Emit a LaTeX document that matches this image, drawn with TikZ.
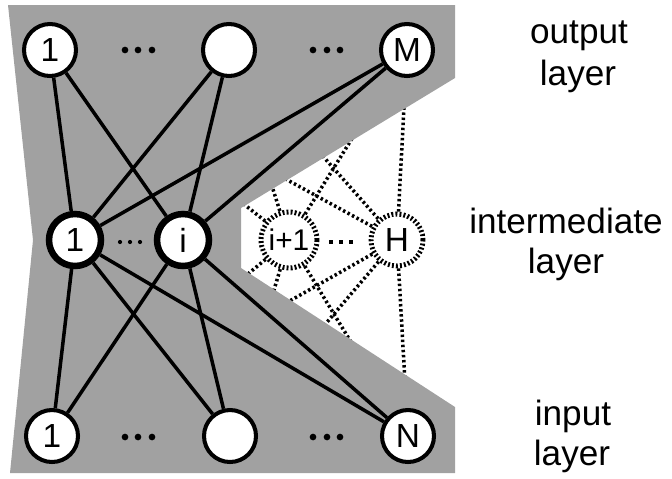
\documentclass[tikz,border=0pt]{standalone}
\usepackage{fontspec}
\setmainfont{Liberation Sans}
\usetikzlibrary{backgrounds}
\definecolor{netgray}{gray}{0.63}
\tikzset{
  neuron/.style={circle, draw, fill=white, line width=2.3pt, minimum size=1.04cm,
    inner sep=0pt, font=\fontsize{19}{22}\selectfont},
  hidden/.style={neuron, line width=3.7pt},
  pruned/.style={neuron, line width=2.8pt, dash pattern=on 1.1pt off 1.2pt},
  link/.style={line width=2pt},
  prunedlink/.style={line width=2pt, dash pattern=on 1.4pt off 1.5pt},
  layername/.style={font=\fontsize{20}{23}\selectfont, anchor=base, inner sep=0pt},
}
\begin{document}
\begin{tikzpicture}[x=0.02cm, y=-0.02cm]
\useasboundingbox (0,0) rectangle (672,478);
% nodes
\node[neuron] (o1) at (50,50) {1};
\node[neuron] (o2) at (229,50) {};
\node[neuron] (oM) at (407,50) {M};
\node[hidden] (h1) at (75,240) {1};
\node[hidden] (hi) at (183,240) {i};
\node[pruned, minimum size=1.12cm, font=\fontsize{17}{20}\selectfont] (hi1) at (289,240) {i+1};
\node[pruned] (hH) at (397,240) {H};
\node[neuron] (in1) at (52,436) {1};
\node[neuron] (in2) at (230,436) {};
\node[neuron] (inN) at (408,436) {N};
% dots between units
\foreach \x in {125,138,152,313,327,340} {
  \fill (\x,50) circle (1.9pt);
  \fill (\x,437) circle (1.9pt);
}
\foreach \x in {120,130,140} \fill (\x,242) circle (1.2pt);
\foreach \x in {331,341,351} \draw[line width=1.8pt] (\x-2,242) -- (\x+2,242);
% layer names
\node[layername] (outname) at (579,43) {output};
\node[layername] (outlayer) at (578,85) {layer};
\node[layername] (midname) at (566,233) {intermediate};
\node[layername] (midlayer) at (566,273) {layer};
\node[layername] (inname) at (573,425) {input};
\node[layername] (inlayer) at (572,465) {layer};
% links
\begin{pgfonlayer}{background}
\foreach \a in {hi1,hH}
  \foreach \b in {o1,o2,oM,in1,in2,inN}
    \draw[prunedlink] (\a) -- (\b);
\fill[netgray] (8,5) -- (455,5) -- (455,78) -- (241,208) -- (241,268) -- (455,407)
  -- (455,473) -- (10,473) -- (33,240) -- cycle;
\foreach \a in {h1,hi}
  \foreach \b in {o1,o2,oM,in1,in2,inN}
    \draw[link] (\a) -- (\b);
\end{pgfonlayer}
\end{tikzpicture}
\end{document}
